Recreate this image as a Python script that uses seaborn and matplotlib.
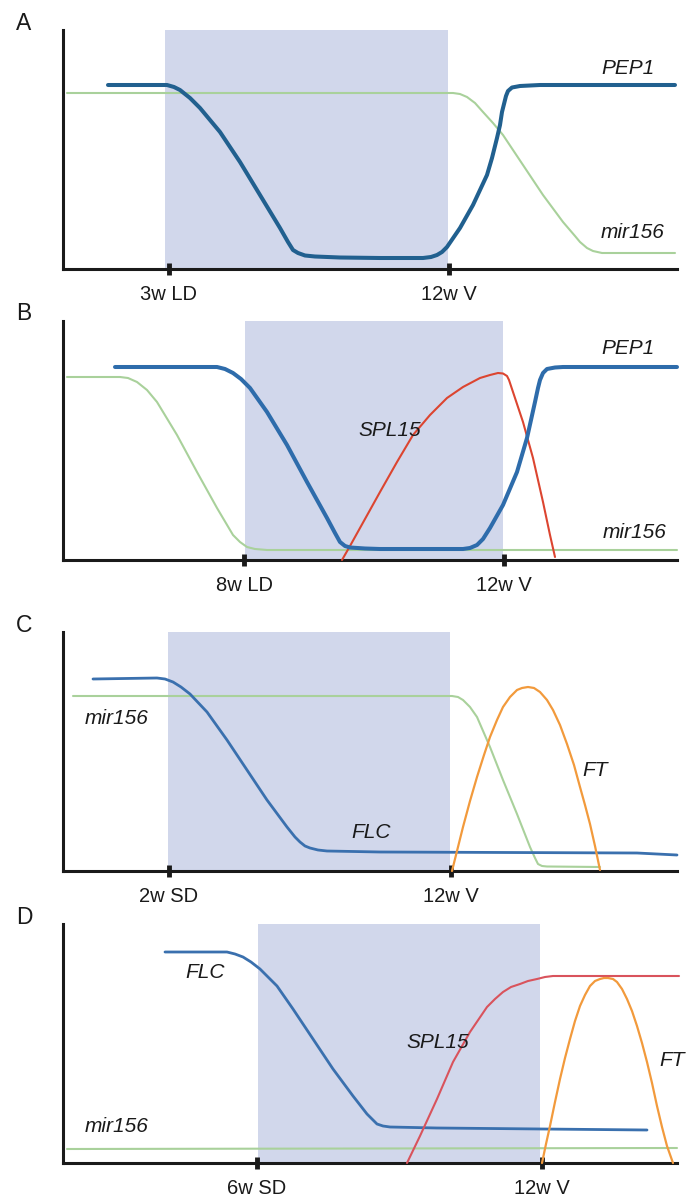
import matplotlib
matplotlib.use("Agg")
import matplotlib.pyplot as plt
import seaborn as sns

# ---------------- data (arbitrary units: x = time, y = expression) ----------------
# Panel A
A_PEP1_X = [45, 104, 111, 117, 127, 137, 157, 177, 197, 217, 225, 230, 235, 242, 252, 277, 317,
            360, 368, 374, 379, 384, 397, 410, 424, 429, 434, 437, 439, 441, 443, 445, 449, 457, 477, 612]
A_PEP1_Y = [184, 184, 182, 179, 171, 161, 137, 107, 74, 41, 27, 19, 16, 13.5, 12.5, 11.5, 11,
            11, 12, 14, 17, 22, 41, 64, 94, 111, 131, 144, 157, 165, 173, 178, 181.5, 183, 184, 184]
A_MIR_X = [4, 390, 397, 404, 412, 420, 430, 440, 460, 480, 500, 512, 517, 524, 530, 539, 547, 612]
A_MIR_Y = [176, 176, 175, 172, 166, 157, 146, 134, 104, 74, 47, 33, 27, 21, 18, 16, 16, 16]

# Panel B
B_PEP1_X = [52, 154, 162, 170, 178, 187, 204, 224, 244, 264, 272, 277, 282, 287, 302, 317,
            400, 407, 414, 420, 427, 440, 454, 464, 468, 472, 475, 477, 480, 484, 492, 500, 614]
B_PEP1_Y = [193, 193, 191, 187, 181, 172, 148, 115, 78, 42, 27, 18, 14, 12.5, 11.5, 11,
            11, 12, 15, 21, 32, 55, 88, 122, 140, 158, 172, 180, 187, 191, 192.5, 193, 193]
B_MIR_X = [4, 57, 65, 74, 84, 94, 114, 134, 154, 170, 177, 184, 192, 204, 614]
B_MIR_Y = [183, 183, 182, 178, 170, 158, 125, 88, 52, 25, 18, 13, 11, 10, 10]
B_SPL_X = [279, 287, 297, 307, 317, 334, 350, 367, 384, 400, 417, 427, 435, 440, 444, 446,
           450, 460, 470, 480, 487, 492]
B_SPL_Y = [0, 14, 32, 50, 68, 98, 125, 145, 162, 173, 182, 185, 187, 186.5, 184, 180,
           168, 138, 102, 58, 25, 3]

# Panel C
C_FLC_X = [30, 94, 102, 110, 118, 127, 144, 164, 184, 204, 224, 232, 237, 242, 247, 255, 264,
           317, 574, 614]
C_FLC_Y = [192, 193, 192, 189, 184, 177, 159, 131, 101, 71, 44, 34, 29, 25, 23, 21, 20,
           19, 18, 16]
C_MIR_X = [10, 389, 395, 400, 407, 414, 427, 440, 454, 467, 472, 475, 479, 484, 537]
C_MIR_Y = [175, 175, 174, 171, 164, 154, 124, 91, 57, 24, 13, 7, 5, 4.5, 4]
C_FT_X = [389, 400, 407, 414, 421, 427, 434, 440, 447, 454, 459, 465, 471, 477, 484, 490,
          497, 504, 511, 517, 522, 527, 532, 537]
C_FT_Y = [0, 44, 70, 94, 116, 134, 151, 164, 174, 181, 183, 184, 183, 179, 171, 161,
          146, 127, 106, 84, 66, 47, 25, 1]

# Panel D
D_FLC_X = [102, 164, 172, 180, 188, 197, 214, 230, 250, 270, 290, 304, 309, 314, 320, 327, 374, 584]
D_FLC_Y = [211, 211, 209, 206, 201, 194, 177, 154, 124, 94, 67, 49, 44, 39, 37, 36, 35, 33]
D_SPL_X = [344, 357, 374, 390, 407, 424, 432, 440, 448, 457, 465, 474, 482, 490, 507, 616]
D_SPL_Y = [0, 27, 64, 101, 131, 156, 164, 171, 176, 179, 182, 184, 186, 187, 187, 187]
D_FT_X = [479, 483, 487, 492, 497, 502, 507, 512, 517, 522, 527, 532, 537, 541, 545, 550,
          554, 559, 564, 569, 574, 579, 584, 589, 594, 599, 604, 610]
D_FT_Y = [0, 19, 37, 61, 84, 105, 124, 142, 157, 168, 177, 182, 184, 185, 185, 184,
          181, 174, 164, 152, 137, 120, 101, 80, 57, 36, 17, 0]
D_MIR_X = [4, 614]
D_MIR_Y = [14, 15]

# shaded windows (start, end) and tick positions / labels
SHADE = {"A": (102, 385), "B": (182, 440), "C": (105, 387), "D": (195, 477)}
TICKS = {"A": [106, 386], "B": [181, 441], "C": [106, 388], "D": [194, 479]}
TICK_LABELS = {"A": ["3w LD", "12w V"], "B": ["8w LD", "12w V"],
               "C": ["2w SD", "12w V"], "D": ["6w SD", "12w V"]}

# ---------------- style ----------------
sns.set_theme(style="white")
plt.rcParams["font.family"] = ["Liberation Sans", "DejaVu Sans"]

BLUE_DARK = "#21608f"
BLUE = "#2e6cab"
BLUE_FLC = "#3a70ae"
GREEN = "#a9d19b"
RED = "#dc4530"
RED_D = "#d9535c"
ORANGE = "#f29a3c"
SHADE_C = "#d1d7eb"
AXIS_C = "#1a1a1a"

W, H = 695, 1196
fig = plt.figure(figsize=(W / 100, H / 100), dpi=100)

AX_LEFT, AX_RIGHT = 63, 677
PANEL_H = 239
AXIS_Y = {"A": 269, "B": 560, "C": 871, "D": 1163}

axes = {}
for key, ay in AXIS_Y.items():
    ax = fig.add_axes([AX_LEFT / W, (H - ay) / H, (AX_RIGHT - AX_LEFT) / W, PANEL_H / H])
    ax.set_xlim(0, AX_RIGHT - AX_LEFT)
    ax.set_ylim(0, PANEL_H)
    ax.set_facecolor("none")
    for s in ["top", "right"]:
        ax.spines[s].set_visible(False)
    for s in ["left", "bottom"]:
        ax.spines[s].set_color(AXIS_C)
        ax.spines[s].set_linewidth(2.2)
    ax.set_yticks([])
    ax.set_xticks(TICKS[key])
    ax.set_xticklabels(TICK_LABELS[key])
    ax.tick_params(axis="x", bottom=True, direction="inout", length=9, width=3.5,
                   color=AXIS_C, pad=7.0, labelsize=14.5, labelcolor="#1a1a1a")
    ax.axvspan(*SHADE[key], color=SHADE_C, lw=0, zorder=0)
    ax.text(-39, PANEL_H + 7, key, transform=ax.transData, fontsize=16.5,
            ha="center", va="center", color="#1a1a1a", clip_on=False)
    axes[key] = ax


def curve(ax, x, y, color, lw):
    sns.lineplot(x=x, y=y, ax=ax, color=color, linewidth=lw, sort=False,
                 estimator=None, clip_on=False, solid_capstyle="round",
                 solid_joinstyle="round", zorder=3)


def label(ax, x, y, s):
    ax.text(x, y, s, fontsize=15, style="italic", ha="center", va="center",
            color="#1a1a1a", clip_on=False, zorder=5)


# Panel A
ax = axes["A"]
curve(ax, A_MIR_X, A_MIR_Y, GREEN, 1.5)
curve(ax, A_PEP1_X, A_PEP1_Y, BLUE_DARK, 2.9)
label(ax, 565, 201, "PEP1")
label(ax, 570, 36, "mir156")

# Panel B
ax = axes["B"]
curve(ax, B_MIR_X, B_MIR_Y, GREEN, 1.5)
curve(ax, B_SPL_X, B_SPL_Y, RED, 1.5)
curve(ax, B_PEP1_X, B_PEP1_Y, BLUE, 2.9)
label(ax, 565, 211, "PEP1")
label(ax, 327, 130, "SPL15")
label(ax, 572, 27, "mir156")

# Panel C
ax = axes["C"]
curve(ax, C_MIR_X, C_MIR_Y, GREEN, 1.5)
curve(ax, C_FLC_X, C_FLC_Y, BLUE_FLC, 2.0)
curve(ax, C_FT_X, C_FT_Y, ORANGE, 1.6)
label(ax, 54, 153, "mir156")
label(ax, 308, 39, "FLC")
label(ax, 532, 101, "FT")

# Panel D
ax = axes["D"]
curve(ax, D_MIR_X, D_MIR_Y, GREEN, 1.5)
curve(ax, D_FLC_X, D_FLC_Y, BLUE_FLC, 2.0)
curve(ax, D_SPL_X, D_SPL_Y, RED_D, 1.5)
curve(ax, D_FT_X, D_FT_Y, ORANGE, 1.6)
label(ax, 142, 191, "FLC")
label(ax, 375, 120, "SPL15")
label(ax, 609, 102, "FT")
label(ax, 54, 37, "mir156")

fig.savefig("out.png", dpi=100)
